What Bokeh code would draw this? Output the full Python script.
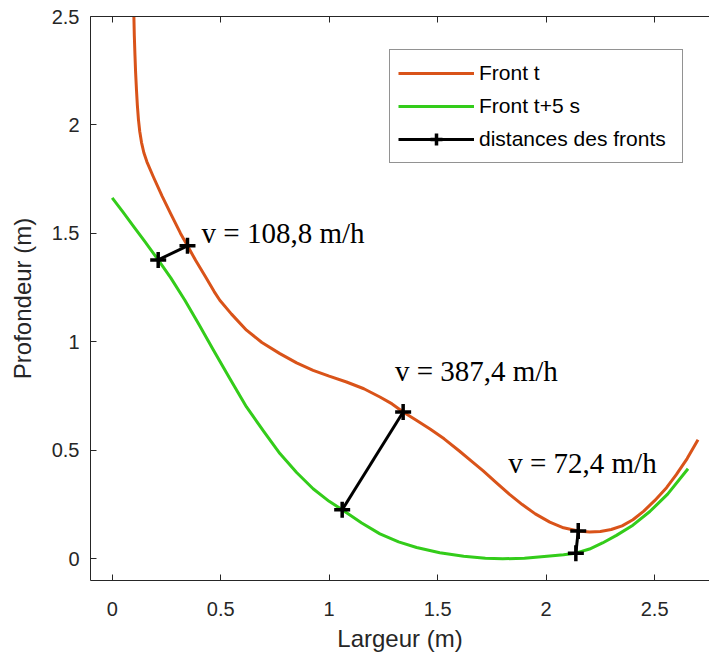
from bokeh.plotting import figure
from bokeh.models import Legend, LegendItem, LinearAxis, FixedTicker, Range1d
from bokeh.core.properties import value
from bokeh.embed import file_html
from bokeh.resources import INLINE

# ---- data ----
front_t_x = [0.100, 0.102, 0.105, 0.108, 0.112, 0.116, 0.121, 0.127, 0.135, 0.146,
             0.160, 0.190, 0.230, 0.270, 0.315, 0.347, 0.385, 0.430, 0.470, 0.496,
             0.550, 0.619, 0.690, 0.773, 0.850, 0.926, 1.000, 1.080, 1.160, 1.234,
             1.290, 1.341, 1.400, 1.465, 1.530, 1.600, 1.660, 1.710, 1.770, 1.830,
             1.890, 1.950, 2.017, 2.080, 2.148, 2.200, 2.250, 2.300, 2.350, 2.400,
             2.450, 2.500, 2.555, 2.600, 2.650, 2.700]
front_t_y = [2.500, 2.410, 2.320, 2.240, 2.160, 2.090, 2.025, 1.970, 1.920, 1.872,
             1.830, 1.760, 1.672, 1.590, 1.500, 1.443, 1.375, 1.300, 1.232, 1.192,
             1.128, 1.054, 0.997, 0.946, 0.903, 0.869, 0.842, 0.815, 0.784, 0.746,
             0.714, 0.677, 0.640, 0.598, 0.553, 0.497, 0.447, 0.405, 0.351, 0.298,
             0.250, 0.207, 0.169, 0.143, 0.128, 0.124, 0.126, 0.135, 0.152, 0.180,
             0.220, 0.268, 0.328, 0.388, 0.462, 0.549]

front_t5_x = [0.000, 0.050, 0.100, 0.150, 0.212, 0.270, 0.335, 0.400, 0.465, 0.540,
              0.619, 0.700, 0.773, 0.850, 0.926, 1.000, 1.060, 1.150, 1.234, 1.320,
              1.403, 1.510, 1.620, 1.720, 1.800, 1.900, 2.017, 2.080, 2.137, 2.200,
              2.260, 2.324, 2.400, 2.478, 2.560, 2.654]
front_t5_y = [1.664, 1.598, 1.530, 1.463, 1.378, 1.295, 1.192, 1.080, 0.965, 0.835,
              0.700, 0.585, 0.485, 0.398, 0.323, 0.265, 0.226, 0.165, 0.115, 0.078,
              0.052, 0.028, 0.012, 0.003, 0.000, 0.003, 0.013, 0.019, 0.026, 0.045,
              0.073, 0.108, 0.155, 0.218, 0.298, 0.415]

dist_x0 = [0.212, 1.060, 2.137]
dist_y0 = [1.378, 0.226, 0.026]
dist_x1 = [0.347, 1.341, 2.148]
dist_y1 = [1.443, 0.677, 0.128]

speed_labels = ["v = 108,8 m/h", "v = 387,4 m/h", "v = 72,4 m/h"]
label_x = [0.412, 1.303, 1.825]
label_y = [1.500, 0.868, 0.440]

x_ticks = [0, 0.5, 1, 1.5, 2, 2.5]
x_tick_labels = ["0", "0.5", "1", "1.5", "2", "2.5"]
y_ticks = [0, 0.5, 1, 1.5, 2, 2.5]
y_tick_labels = ["0", "0.5", "1", "1.5", "2", "2.5"]

ORANGE = "#D95319"
GREEN = "#33CC1A"
AXC = "#262626"

p = figure(width=709, height=655,
           x_range=Range1d(-0.1, 2.753), y_range=Range1d(-0.1, 2.5),
           output_backend="svg", toolbar_location=None,
           min_border_left=90, min_border_right=0,
           min_border_top=16, min_border_bottom=75)
p.outline_line_color = None
p.grid.visible = False
p.background_fill_color = "white"
p.border_fill_color = "white"

p.xaxis.axis_label = "Largeur (m)"
p.yaxis.axis_label = "Profondeur (m)"

for ax, ticks, labels in [(p.xaxis[0], x_ticks, x_tick_labels),
                          (p.yaxis[0], y_ticks, y_tick_labels)]:
    ax.ticker = FixedTicker(ticks=ticks)
    ax.major_label_overrides = dict(zip(ticks, labels))
    ax.major_tick_in = 6
    ax.major_tick_out = 0
    ax.minor_tick_line_color = None
    ax.axis_line_color = AXC
    ax.major_tick_line_color = AXC
    ax.major_label_text_color = AXC
    ax.major_label_text_font = "Liberation Sans"
    ax.major_label_text_font_size = "20px"
    ax.axis_label_text_font = "Liberation Sans"
    ax.axis_label_text_font_size = "24px"
    ax.axis_label_text_font_style = "normal"
    ax.axis_label_text_color = AXC

p.xaxis.major_label_standoff = 21
p.xaxis.axis_label_standoff = 6
p.yaxis.major_label_standoff = 11
p.yaxis.axis_label_standoff = 13

top = LinearAxis(ticker=FixedTicker(ticks=x_ticks), major_tick_in=6, major_tick_out=0,
                 minor_tick_line_color=None, axis_line_color=AXC,
                 major_tick_line_color=AXC, major_label_text_font_size="1px",
                 major_label_text_color=None, major_label_standoff=0)
p.add_layout(top, "above")

r_t = p.line(front_t_x, front_t_y, line_color=ORANGE, line_width=3, line_join="round")
r_t5 = p.line(front_t5_x, front_t5_y, line_color=GREEN, line_width=3, line_join="round")
r_seg = p.segment(x0=dist_x0, y0=dist_y0, x1=dist_x1, y1=dist_y1,
                  line_color="black", line_width=3)
r_pts = p.scatter(x=dist_x0 + dist_x1, y=dist_y0 + dist_y1, marker="cross",
                  size=16, line_color="black", line_width=3.5)

p.text(x=label_x, y=label_y, text=speed_labels,
       text_font=value("Liberation Serif"), text_font_size="29px",
       text_baseline="middle", text_align="left", text_color="black")

legend = Legend(items=[LegendItem(label="Front t", renderers=[r_t]),
                       LegendItem(label="Front t+5 s", renderers=[r_t5]),
                       LegendItem(label="distances des fronts", renderers=[r_seg, r_pts])],
                location=(299, 417), orientation="vertical",
                label_text_font="Liberation Sans", label_text_font_size="21px",
                label_text_color="black",
                border_line_color=AXC, border_line_width=1,
                background_fill_color="white", background_fill_alpha=1.0,
                padding=8, spacing=3, margin=0,
                glyph_width=76, glyph_height=30, label_height=30,
                label_standoff=5, label_width=195)
p.add_layout(legend)

open("out.html", "w").write(file_html(p, INLINE))
